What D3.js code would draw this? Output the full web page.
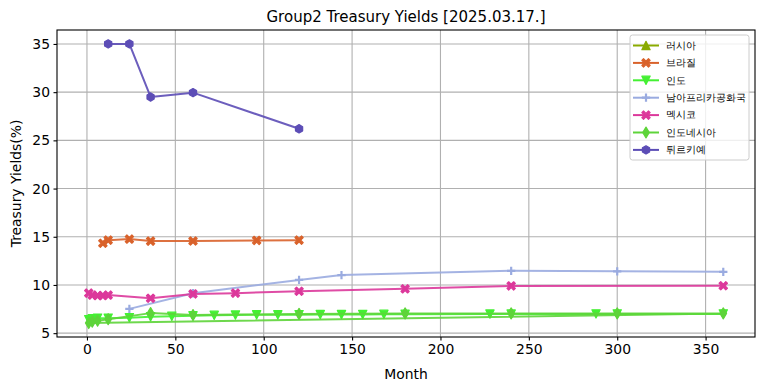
<!DOCTYPE html>
<html><head><meta charset="utf-8">
<script src="https://cdn.jsdelivr.net/npm/d3@7"></script>
<style>body{margin:0;background:#fff}svg text{font-family:"DejaVu Sans",sans-serif}</style>
</head><body><svg id="c" width="764" height="391"></svg>
<script>
// ---- data ----
const seriesNames = ["러시아","브라질","인도","남아프리카공화국","멕시코","인도네시아","튀르키예"];
const seriesColors = ["#8aab00","#d9622b","#44f033","#9aabe0","#dc389b","#5ed43a","#5c4db6"];
const seriesMarkers = ["tri-up","x","tri-down","plus","x","thin-diamond","hexagon"];

const russiaMonths = [];
const russiaYields = [];
const brazilMonths = [9,12,24,36,60,96,120];
const brazilYields = [14.33,14.65,14.76,14.55,14.56,14.62,14.65];
const indiaMonths = [1,3,6,12,24,36,48,60,72,84,96,108,120,132,144,156,168,180,228,240,288,300,360];
const indiaYields = [6.4,6.5,6.55,6.55,6.6,6.7,6.75,6.8,6.85,6.88,6.9,6.9,6.92,6.93,6.93,6.94,6.95,6.95,6.98,6.98,7.0,7.0,7.0];
const safricaMonths = [24,60,120,144,240,300,360];
const safricaYields = [7.52,9.14,10.52,11.03,11.47,11.42,11.36];
const mexicoMonths = [1,3,6,9,12,36,60,84,120,180,240,360];
const mexicoYields = [9.15,8.95,8.9,8.9,8.95,8.62,9.07,9.15,9.35,9.6,9.9,9.92];
const indonesiaMonths = [3,6,12,36,60,120,180,240,300,360,1];
const indonesiaYields = [6.2,6.3,6.45,7.08,6.88,7.0,7.05,7.05,7.05,7.05,6.05];
const turkiyeMonths = [12,24,36,60,120];
const turkiyeYields = [35.0,35.0,29.5,29.95,26.2];

const xTicks = [0,50,100,150,200,250,300,350];
const yTicks = [5,10,15,20,25,30,35];
const titleText = "Group2 Treasury Yields [2025.03.17.]";
const xLabel = "Month";
const yLabel = "Treasury Yields(%)";

const monthsList = [russiaMonths,brazilMonths,indiaMonths,safricaMonths,mexicoMonths,indonesiaMonths,turkiyeMonths];
const yieldsList = [russiaYields,brazilYields,indiaYields,safricaYields,mexicoYields,indonesiaYields,turkiyeYields];
const series = seriesNames.map((n,i)=>({name:n,color:seriesColors[i],marker:seriesMarkers[i],
  pts: monthsList[i].map((m,j)=>({x:m,y:yieldsList[i][j]}))}));

// ---- layout ----
const L=57,R=755,T=30,B=337;
const svg=d3.select("#c");
const allPts=series.flatMap(s=>s.pts);
const xe=d3.extent(allPts,d=>d.x), ye=d3.extent(allPts,d=>d.y);
const xm=(xe[1]-xe[0])*0.05, ym=(ye[1]-ye[0])*0.05;
const x=d3.scaleLinear().domain([xe[0]-xm,xe[1]+xm]).range([L,R]);
const y=d3.scaleLinear().domain([ye[0]-ym,ye[1]+ym]).range([B,T]);

// grid
const g=svg.append("g");
g.selectAll("line.gx").data(xTicks).enter().append("line")
  .attr("x1",d=>x(d)).attr("x2",d=>x(d)).attr("y1",T).attr("y2",B)
  .attr("stroke","#b0b0b0").attr("stroke-width",1.1);
g.selectAll("line.gy").data(yTicks).enter().append("line")
  .attr("y1",d=>y(d)).attr("y2",d=>y(d)).attr("x1",L).attr("x2",R)
  .attr("stroke","#b0b0b0").attr("stroke-width",1.1);

// axes
const fs="13.9px";
const ax=svg.append("g").attr("transform",`translate(0,${B})`)
  .call(d3.axisBottom(x).tickValues(xTicks).tickSize(3.5).tickPadding(3.5).tickSizeOuter(0));
const ay=svg.append("g").attr("transform",`translate(${L},0)`)
  .call(d3.axisLeft(y).tickValues(yTicks).tickSize(3.5).tickPadding(3.5).tickSizeOuter(0));
[ax,ay].forEach(a=>{a.select(".domain").remove();
  a.selectAll("text").attr("font-family","DejaVu Sans").attr("font-size",fs).attr("fill","#000");
  a.selectAll("line").attr("stroke","#000").attr("stroke-width",1.1);});

// markers
const ms=8.3;
function markerPath(type){
  const h=ms/2;
  switch(type){
    case "tri-up": return `M0,${-h}L${h},${h}L${-h},${h}Z`;
    case "tri-down": return `M0,${h}L${h},${-h}L${-h},${-h}Z`;
    case "x": {
      const u=[[0,0.2],[0.3,0.5],[0.5,0.3],[0.2,0],[0.5,-0.3],[0.3,-0.5],[0,-0.2],[-0.3,-0.5],[-0.5,-0.3],[-0.2,0],[-0.5,0.3],[-0.3,0.5]];
      return "M"+u.map(p=>(p[0]*ms).toFixed(2)+","+(p[1]*ms).toFixed(2)).join("L")+"Z";
    }
    case "plus": return `M${-h},0L${h},0M0,${-h}L0,${h}`;
    case "thin-diamond": { const H=ms*0.66, W=H*0.6; return `M0,${-H}L${W},0L0,${H}L${-W},0Z`; }
    case "hexagon": { let p=""; for(let k=0;k<6;k++){const an=-Math.PI/2+k*Math.PI/3; p+=(k?"L":"M")+(h*Math.cos(an)).toFixed(2)+","+(h*Math.sin(an)).toFixed(2);} return p+"Z"; }
  }
}
function drawMarker(sel,s){
  const p=markerPath(s.marker);
  if(s.marker==="plus"){
    sel.append("path").attr("d",p).attr("fill","none").attr("stroke",s.color).attr("stroke-width",2.2);
  } else {
    sel.append("path").attr("d",p).attr("fill",s.color).attr("stroke",s.color).attr("stroke-width",1.2).attr("stroke-linejoin","round");
  }
}

const line=d3.line().x(d=>x(d.x)).y(d=>y(d.y));
series.forEach(s=>{
  const sg=svg.append("g");
  if(s.pts.length){
    sg.append("path").attr("d",line(s.pts)).attr("fill","none").attr("stroke",s.color)
      .attr("stroke-width",2).attr("stroke-opacity",0.9).attr("stroke-linejoin","round");
  }
  s.pts.forEach(pt=>{
    const mg=sg.append("g").attr("transform",`translate(${x(pt.x)},${y(pt.y)})`);
    drawMarker(mg,s);
  });
});

// frame
svg.append("rect").attr("x",L).attr("y",T).attr("width",R-L).attr("height",B-T)
  .attr("fill","none").attr("stroke","#000").attr("stroke-width",1.1);

// labels
svg.append("text").attr("x",(L+R)/2).attr("y",T-8.3).attr("text-anchor","middle")
  .attr("font-size","15px").text(titleText);
svg.append("text").attr("x",(L+R)/2).attr("y",379).attr("text-anchor","middle")
  .attr("font-size",fs).text(xLabel);
svg.append("text").attr("transform",`translate(21,${(T+B)/2}) rotate(-90)`).attr("text-anchor","middle")
  .attr("font-size",fs).text(yLabel);

// legend
const lg=svg.append("g");
lg.append("rect").attr("x",630).attr("y",35).attr("width",119).attr("height",125).attr("rx",2.5)
  .attr("fill","#fff").attr("fill-opacity",0.8).attr("stroke","#cccccc").attr("stroke-width",1);
series.forEach((s,i)=>{
  const yy=45.5+i*17.4;
  lg.append("line").attr("x1",633).attr("x2",659).attr("y1",yy).attr("y2",yy)
    .attr("stroke",s.color).attr("stroke-width",2);
  drawMarker(lg.append("g").attr("transform",`translate(646,${yy})`),s);
  lg.append("text").attr("x",666).attr("y",yy).attr("dy","0.35em")
    .attr("font-family","'Noto Sans CJK KR',sans-serif").attr("font-size","9.7px").text(s.name);
});
</script></body></html>
